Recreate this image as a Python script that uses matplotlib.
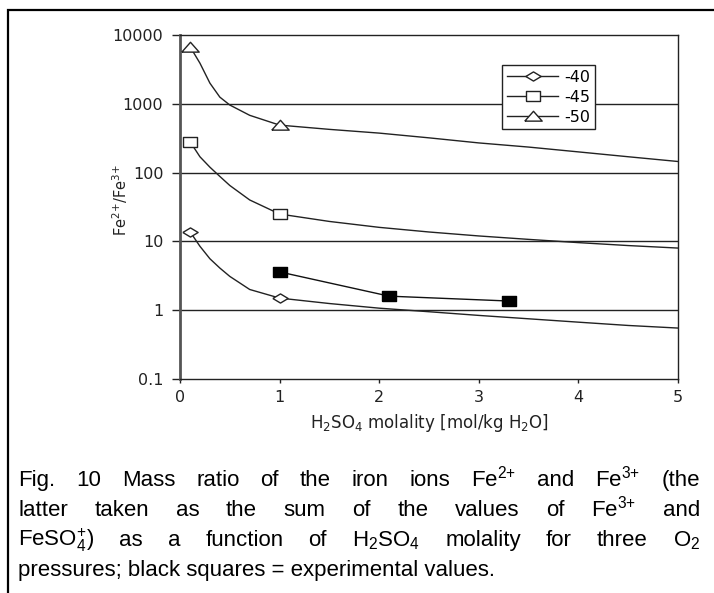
import matplotlib
matplotlib.use('Agg')
import matplotlib.pyplot as plt
from matplotlib.patches import Rectangle

# curve values (molality, Fe2+/Fe3+)
x_pts = [0.1, 0.2, 0.3, 0.4, 0.5, 0.7, 1.0, 1.5, 2.0, 2.5, 3.0, 3.5, 4.0, 4.5, 5.0]
ratio_40 = [13.9, 8.5, 5.6, 4.1, 3.1, 2.0, 1.5, 1.25, 1.07, 0.95, 0.84, 0.75, 0.67, 0.6, 0.55]
ratio_45 = [283, 170, 120, 88, 65, 40, 25, 19.5, 16, 13.7, 12, 10.7, 9.6, 8.7, 8.0]
ratio_50 = [6800, 3900, 2000, 1250, 960, 680, 490, 425, 375, 320, 270, 235, 200, 170, 145]
marked = [0, 6]   # points that carry a marker (x = 0.1 and x = 1)

exp_x = [1.0, 2.1, 3.3]
exp_ratio = [3.6, 1.6, 1.36]

series_labels = ['-40', '-45', '-50']
x_ticks = [0, 1, 2, 3, 4, 5]
y_ticks = [0.1, 1, 10, 100, 1000, 10000]
y_tick_labels = ['0.1', '1', '10', '100', '1000', '10000']

caption_lines = [
    'Fig. 10 Mass ratio of the iron ions $\\mathregular{Fe^{2{+}}}$ and $\\mathregular{Fe^{3{+}}}$ (the',
    'latter taken as the sum of the values of $\\mathregular{Fe^{3{+}}}$ and',
    '$\\mathregular{FeSO_4^{+}}$) as a function of $\\mathregular{H_2SO_4}$ molality for three $\\mathregular{O_2}$',
    'pressures; black squares = experimental values.',
]

# flattened marker shapes as in the original
diamond = [(-1.5, 0), (0, 0.9), (1.5, 0), (0, -0.9), (-1.5, 0)]
rect = [(-1.3, -1), (1.3, -1), (1.3, 1), (-1.3, 1), (-1.3, -1)]
tri = [(-1.5, -0.8), (0, 0.9), (1.5, -0.8), (-1.5, -0.8)]

W, H = 714, 593
fig = plt.figure(figsize=(W / 100, H / 100), dpi=100)
ax = fig.add_axes([180 / W, 1 - 379 / H, 498 / W, 344 / H])

ax.set_yscale('log')
ax.set_xlim(0, 5)
ax.set_ylim(0.1, 10000)

for yv in y_ticks[1:-1]:
    ax.axhline(yv, color='#222222', lw=1.0, zorder=1)

line_kw = dict(color='#222222', lw=1.0, mfc='white', mec='#222222', mew=1.0, markevery=marked, zorder=3)
ax.plot(x_pts, ratio_40, marker=diamond, ms=11, label=series_labels[0], **line_kw)
ax.plot(x_pts, ratio_45, marker=rect, ms=9.5, label=series_labels[1], **line_kw)
ax.plot(x_pts, ratio_50, marker=tri, ms=12.5, label=series_labels[2], **line_kw)
ax.plot(exp_x, exp_ratio, color='#111111', lw=1.0, marker=rect, ms=10,
        mfc='black', mec='black', zorder=4)

ax.set_xticks(x_ticks)
ax.set_xticklabels([str(v) for v in x_ticks])
ax.set_yticks(y_ticks)
ax.set_yticklabels(y_tick_labels)
ax.minorticks_off()
ax.tick_params(axis='y', direction='out', length=6, width=1, pad=6, labelsize=11.5, colors='#222222')
ax.tick_params(axis='x', direction='out', length=3, width=1, pad=5, labelsize=11.5, colors='#222222')

for s in ax.spines.values():
    s.set_color('#222222')
    s.set_linewidth(1.0)
ax.spines['left'].set_color('#555555')
ax.spines['left'].set_linewidth(2.0)

ax.set_xlabel('$\\mathregular{H_2SO_4}$ molality [mol/kg $\\mathregular{H_2O}$]', fontsize=12,
              color='#222222', labelpad=5)
ax.set_ylabel('$\\mathregular{Fe^{2{+}}/Fe^{3{+}}}$', fontsize=10.5, color='#222222')
ax.yaxis.set_label_coords(-0.10, 0.52)

leg = ax.legend(loc='upper left', bbox_to_anchor=(0.647, 0.912), fontsize=11.5, frameon=True,
                fancybox=False, edgecolor='#222222', framealpha=1, handlelength=3.2,
                handletextpad=0.4, borderpad=0.3, labelspacing=0.3, borderaxespad=0)
leg.get_frame().set_linewidth(1.0)

# page frame
fig.patches.append(Rectangle((8 / W, -0.1), 2, 1.1 - 10 / H, transform=fig.transFigure,
                             fill=False, ec='black', lw=1.6, clip_on=False))

# justified caption
cap_font = dict(family='Liberation Sans', size=16, color='black')
left, right = 18 / W, 700 / W
baselines = [486, 516, 546, 576]
renderer = fig.canvas.get_renderer()
for i, line in enumerate(caption_lines):
    yb = 1 - baselines[i] / H
    if i == len(caption_lines) - 1:
        fig.text(left, yb, line, va='baseline', ha='left', **cap_font)
        continue
    # split on spaces outside math
    words, cur, inmath = [], '', False
    for ch in line:
        if ch == '$':
            inmath = not inmath
        if ch == ' ' and not inmath:
            words.append(cur)
            cur = ''
        else:
            cur += ch
    words.append(cur)
    texts = [fig.text(0, yb, w, va='baseline', ha='left', **cap_font) for w in words]
    widths = [t.get_window_extent(renderer).width / W for t in texts]
    gap = (right - left - sum(widths)) / (len(words) - 1)
    xpos = left
    for t, wdt in zip(texts, widths):
        t.set_x(xpos)
        xpos += wdt + gap

fig.savefig('out.png', dpi=100)
